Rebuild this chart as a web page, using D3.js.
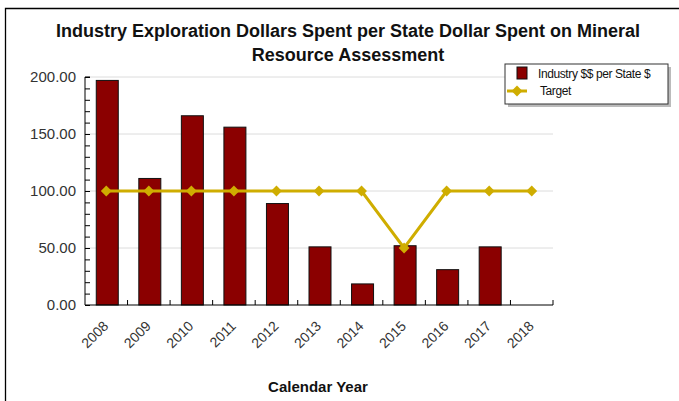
<!DOCTYPE html>
<html>
<head>
<meta charset="utf-8">
<script src="https://cdn.jsdelivr.net/npm/d3@7"></script>
<style>
  body { margin: 0; background: #fff; }
  svg text { font-family: Arial, "Liberation Sans", sans-serif; }
</style>
</head>
<body>
<svg id="chart" width="679" height="401"></svg>
<script>
const years = ["2008", "2009", "2010", "2011", "2012", "2013", "2014", "2015", "2016", "2017", "2018"];
const industry = [197, 111, 166, 156, 89, 51, 18.5, 52, 31, 51, null];
const target = [100, 100, 100, 100, 100, 100, 100, 50, 100, 100, 100];
const yTicks = [0, 50, 100, 150, 200];
const titleLines = ["Industry Exploration Dollars Spent per State Dollar Spent on Mineral", "Resource Assessment"];

const svg = d3.select("#chart");
const margin = { top: 77, right: 126, bottom: 96, left: 85 };
const width = 679, height = 401;
const barColor = "#8b0000", lineColor = "#cfad00";

// frame (left + top edges only visible)
svg.append("path")
  .attr("d", `M5.5,${height} V8.5 H${width}`)
  .attr("fill", "none").attr("stroke", "#000").attr("stroke-width", 1.3);

const x = d3.scaleBand().domain(years).range([margin.left, width - margin.right]).paddingInner(0).paddingOuter(0);
const y = d3.scaleLinear().domain([0, 200]).range([height - margin.bottom, margin.top]);

// gridlines
svg.append("g").selectAll("line")
  .data(yTicks.filter(d => d > 0))
  .enter().append("line")
    .attr("x1", margin.left).attr("x2", width - margin.right)
    .attr("y1", d => y(d)).attr("y2", d => y(d))
    .attr("stroke", "#dcdcdc").attr("stroke-width", 1);

// bars
const bw = 22;
svg.append("g").selectAll("rect")
  .data(years.map((yr, i) => ({ yr, v: industry[i] })).filter(d => d.v != null))
  .enter().append("rect")
    .attr("x", d => x(d.yr) + x.bandwidth() / 2 - bw / 2 + 1)
    .attr("y", d => y(d.v))
    .attr("width", bw)
    .attr("height", d => y(0) - y(d.v))
    .attr("fill", barColor)
    .attr("stroke", "#111").attr("stroke-width", 1);

// y axis (ticks inward)
const yAxis = svg.append("g")
  .attr("transform", `translate(${margin.left},0)`)
  .call(d3.axisRight(y).tickValues(d3.range(0, 201, 10)).tickSize(5).tickFormat(""));
yAxis.select(".domain").attr("d", `M5,${y(200)}H0V${y(0)}`).attr("stroke", "#000");
yAxis.selectAll("line").attr("stroke", "#000");

svg.append("g").selectAll("text")
  .data(yTicks)
  .enter().append("text")
    .attr("x", margin.left - 9)
    .attr("y", d => y(d) + 5)
    .attr("text-anchor", "end")
    .attr("font-size", "15px")
    .attr("fill", "#333")
    .text(d => d.toFixed(2));

// x axis (ticks inward at band edges)
const xg = svg.append("g");
xg.append("line")
  .attr("x1", margin.left).attr("x2", width - margin.right)
  .attr("y1", y(0)).attr("y2", y(0))
  .attr("stroke", "#000");
xg.selectAll(".xt")
  .data(years.slice(1).map(d => x(d)).concat([width - margin.right]))
  .enter().append("line")
    .attr("x1", d => d).attr("x2", d => d)
    .attr("y1", y(0)).attr("y2", y(0) - 5)
    .attr("stroke", "#000");
xg.selectAll("text")
  .data(years)
  .enter().append("text")
    .attr("transform", d => `translate(${x(d) + x.bandwidth() / 2 - 4},${y(0) + 15}) rotate(-45)`)
    .attr("text-anchor", "end")
    .attr("dy", "0.7em")
    .attr("font-size", "14px")
    .attr("fill", "#333")
    .text(d => d);

// target line
const line = d3.line()
  .x((d, i) => x(years[i]) + x.bandwidth() / 2)
  .y(d => y(d));
svg.append("path")
  .datum(target)
  .attr("d", line)
  .attr("fill", "none")
  .attr("stroke", lineColor)
  .attr("stroke-width", 3);

const diamond = d3.symbol().type(d3.symbolDiamond2).size(75);
svg.append("g").selectAll("path")
  .data(target)
  .enter().append("path")
    .attr("d", diamond)
    .attr("transform", (d, i) => `translate(${x(years[i]) + x.bandwidth() / 2},${y(d)})`)
    .attr("fill", lineColor);

// title
svg.append("text")
  .attr("x", 348).attr("y", 37)
  .attr("text-anchor", "middle")
  .attr("font-size", "18px").attr("font-weight", "bold")
  .attr("fill", "#111")
  .selectAll("tspan")
  .data(titleLines)
  .enter().append("tspan")
    .attr("x", 348)
    .attr("dy", (d, i) => i === 0 ? 0 : 24)
    .text(d => d);

// x axis title
svg.append("text")
  .attr("x", 318).attr("y", 392)
  .attr("text-anchor", "middle")
  .attr("font-size", "15px").attr("font-weight", "bold")
  .attr("fill", "#111")
  .text("Calendar Year");

// legend
const lg = svg.append("g").attr("transform", "translate(505,64)");
lg.append("rect").attr("x", 3).attr("y", 3).attr("width", 163).attr("height", 40).attr("fill", "#bbb");
lg.append("rect").attr("x", 0).attr("y", 0).attr("width", 163).attr("height", 40)
  .attr("fill", "#fff").attr("stroke", "#333").attr("stroke-width", 1);
lg.append("rect").attr("x", 12).attr("y", 3).attr("width", 10).attr("height", 12)
  .attr("fill", barColor).attr("stroke", "#111");
lg.append("text").attr("x", 33).attr("y", 14).attr("font-size", "12px").attr("fill", "#111")
  .attr("letter-spacing", "-0.4px")
  .text("Industry $$ per State $");
lg.append("line").attr("x1", 2).attr("x2", 22).attr("y1", 27).attr("y2", 27)
  .attr("stroke", lineColor).attr("stroke-width", 3);
lg.append("path").attr("d", diamond).attr("transform", "translate(12,27)").attr("fill", lineColor);
lg.append("text").attr("x", 35).attr("y", 31).attr("font-size", "12px").attr("fill", "#111")
  .attr("letter-spacing", "-0.4px")
  .text("Target");
</script>
</body>
</html>
